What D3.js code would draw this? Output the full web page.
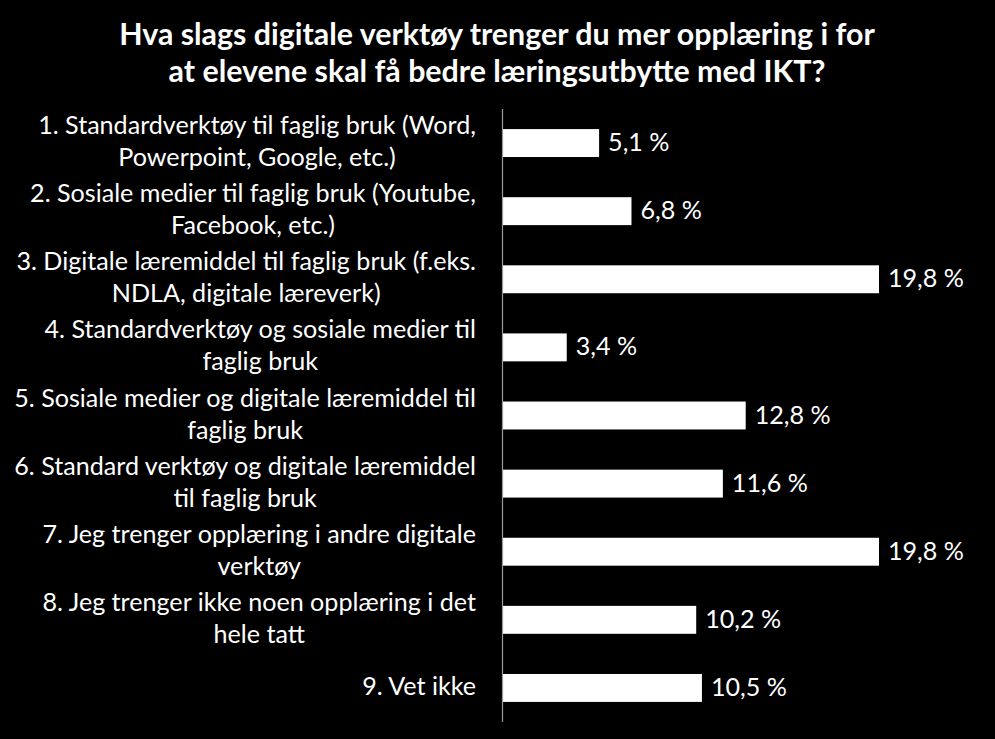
<!DOCTYPE html>
<html><head><meta charset="utf-8">
<script src="https://cdn.jsdelivr.net/npm/d3@7"></script>
<style>html,body{margin:0;padding:0;background:#000;}svg{display:block;}</style>
</head><body>
<svg id="chart" width="995" height="739"></svg>
<script>
const titleLines = ["Hva slags digitale verktøy trenger du mer opplæring i for", "at elevene skal få bedre læringsutbytte med IKT?"];
const categories = [
  ["1. Standardverktøy til faglig bruk (Word,", "Powerpoint, Google, etc.)"],
  ["2. Sosiale medier til faglig bruk (Youtube,", "Facebook, etc.)"],
  ["3. Digitale læremiddel til faglig bruk (f.eks.", "NDLA, digitale læreverk)"],
  ["4. Standardverktøy og sosiale medier til", "faglig bruk"],
  ["5. Sosiale medier og digitale læremiddel til", "faglig bruk"],
  ["6. Standard verktøy og digitale læremiddel", "til faglig bruk"],
  ["7. Jeg trenger opplæring i andre digitale", "verktøy"],
  ["8. Jeg trenger ikke noen opplæring i det", "hele tatt"],
  ["9. Vet ikke"]
];
const values = [5.1, 6.8, 19.8, 3.4, 12.8, 11.6, 19.8, 10.2, 10.5];

const svg = d3.select("#chart");
const FONT = "Lato, 'Open Sans', sans-serif";
svg.append("rect").attr("width", 995).attr("height", 739).attr("fill", "#000");

function fitSize(text, weight, target, base) {
  const t = svg.append("text").attr("font-family", FONT).attr("font-weight", weight)
    .attr("font-size", base).text(text);
  const w = t.node().getComputedTextLength();
  t.remove();
  return base * target / w;
}
const labelSize = fitSize(categories[0][0], "normal", 438, 20);
const titleSize = fitSize(titleLines[0], "bold", 756, 24);

const idx = categories.map((d, i) => i);
const y = d3.scaleBand().domain(idx).range([109, 722]).paddingInner(0.59).paddingOuter(0.295);
const x = d3.scaleLinear().domain([0, 25]).range([502, 978]);

// title
svg.append("g").selectAll("text").data(titleLines).join("text")
  .attr("x", 497).attr("y", (d, i) => 45 + i * 37)
  .attr("text-anchor", "middle").attr("fill", "#fff")
  .attr("font-family", FONT).attr("font-weight", "bold").attr("font-size", titleSize)
  .text(d => d);

// bars
svg.append("g").selectAll("rect").data(values).join("rect")
  .attr("x", x(0)).attr("y", (d, i) => y(i))
  .attr("width", d => x(d) - x(0)).attr("height", y.bandwidth())
  .attr("fill", "#fff");

// axis line
svg.append("g").attr("transform", `translate(${x(0)},0)`)
  .call(d3.axisLeft(y).tickSize(0).tickFormat(""))
  .call(g => g.select(".domain").attr("stroke", "#9a9a9a").attr("stroke-width", 1.2)
    .attr("d", `M0.5,${y.range()[0]}V${y.range()[1]}`));

// category labels
const lab = svg.append("g");
categories.forEach((lines, i) => {
  const c = y(i) + y.bandwidth() / 2;
  const g = lab.append("g");
  const texts = g.selectAll("text").data(lines).join("text")
    .attr("fill", "#fff").attr("font-family", FONT).attr("font-size", labelSize)
    .attr("text-anchor", "middle")
    .attr("y", (d, j) => c + 7 - (lines.length - 1) * 16 + j * 32)
    .text(d => d);
  let maxW = 0;
  texts.each(function () { maxW = Math.max(maxW, this.getComputedTextLength()); });
  texts.attr("x", 476 - maxW / 2);
});

// value labels
svg.append("g").selectAll("text").data(values).join("text")
  .attr("x", d => x(d) + 9).attr("y", (d, i) => y(i) + y.bandwidth() / 2 + 8)
  .attr("fill", "#fff").attr("font-family", FONT).attr("font-size", labelSize)
  .text(d => d.toFixed(1).replace(".", ",") + " %");
</script>
</body></html>
